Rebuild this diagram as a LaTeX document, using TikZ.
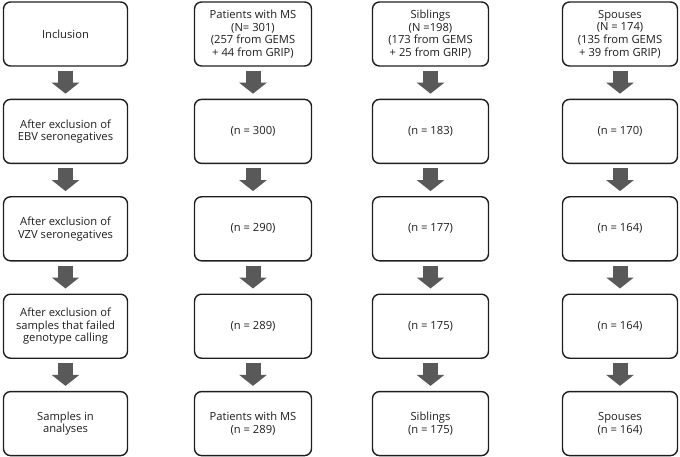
\documentclass[tikz,border=0pt]{standalone}
\usepackage{fontspec}
\setmainfont{Open Sans}
\usepackage{tikz}
\usetikzlibrary{positioning}
\usetikzlibrary{arrows.meta}

\definecolor{boxline}{HTML}{1E1E1E}
\definecolor{passgray}{HTML}{595959}

\begin{document}
\begin{tikzpicture}[x=1pt, y=-1pt, node distance=32pt,
    font=\fontsize{11.2}{12.6}\selectfont, text=boxline]
        \useasboundingbox (0,0) rectangle (680,457);
        \tikzset{
          stage/.style={draw=boxline, line width=1.4pt, rounded corners=7pt, align=center,
                        minimum height=64pt, inner sep=2pt},
          pass/.style={draw=passgray, line width=15pt, shorten <=4pt, shorten >=5pt,
                       -{Triangle[width=27pt, length=11pt]}}
        }

        % Kopfzeile
        \node[stage, minimum width=124pt] (inc) at (65.5,34) {Inclusion};
        \node[stage, minimum width=117pt] (ms0) at (253,34) {Patients with MS\\(N= 301)\\(257 from GEMS\\+ 44 from GRIP)};
        \node[stage, minimum width=116pt] (sib0) at (430.5,34) {Siblings\\(N =198)\\(173 from GEMS\\+ 25 from GRIP)};
        \node[stage, minimum width=115pt] (sp0) at (620,34) {Spouses\\(N = 174)\\(135 from GEMS\\+ 39 from GRIP)};

        % EBV
        \node[stage, minimum width=124pt, below=of inc] (ebv) {After exclusion of\\EBV seronegatives};
        \node[stage, minimum width=117pt, below=of ms0] (ms1) {(n = 300)};
        \node[stage, minimum width=116pt, below=of sib0] (sib1) {(n = 183)};
        \node[stage, minimum width=115pt, below=of sp0] (sp1) {(n = 170)};

        % VZV
        \node[stage, minimum width=124pt, below=of ebv] (vzv) {After exclusion of\\VZV seronegatives};
        \node[stage, minimum width=117pt, below=of ms1] (ms2) {(n = 290)};
        \node[stage, minimum width=116pt, below=of sib1] (sib2) {(n = 177)};
        \node[stage, minimum width=115pt, below=of sp1] (sp2) {(n = 164)};

        % Genotypisierung
        \node[stage, minimum width=124pt, below=of vzv] (geno) {After exclusion of\\samples that failed\\genotype calling};
        \node[stage, minimum width=117pt, below=of ms2] (ms3) {(n = 289)};
        \node[stage, minimum width=116pt, below=of sib2] (sib3) {(n = 175)};
        \node[stage, minimum width=115pt, below=of sp2] (sp3) {(n = 164)};

        % Analysen
        \node[stage, minimum width=124pt, below=of geno] (ana) {Samples in\\analyses};
        \node[stage, minimum width=117pt, below=of ms3] (ms4) {Patients with MS\\(n = 289)};
        \node[stage, minimum width=116pt, below=of sib3] (sib4) {Siblings\\(n = 175)};
        \node[stage, minimum width=115pt, below=of sp3] (sp4) {Spouses\\(n = 164)};

        % Pfeile
        \foreach \a/\b in {inc/ebv, ebv/vzv, vzv/geno, geno/ana,
                           ms0/ms1, ms1/ms2, ms2/ms3, ms3/ms4,
                           sib0/sib1, sib1/sib2, sib2/sib3, sib3/sib4,
                           sp0/sp1, sp1/sp2, sp2/sp3, sp3/sp4}
          \draw[pass] (\a.south) -- (\b.north);

    \end{tikzpicture}
\end{document}
